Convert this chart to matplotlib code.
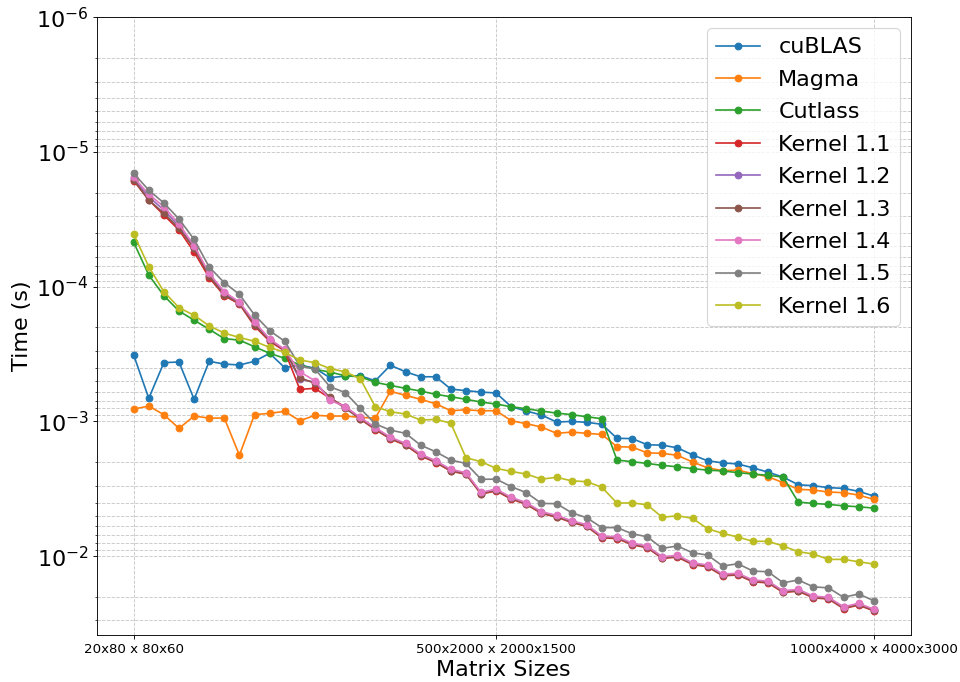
import numpy as np
from matplotlib import pyplot as plt

# matrix sizes: m x 4m times 4m x 3m, m = 20 .. 1000
sizes = list(range(20, 1001, 20))
tick_idx = [0, 24, 49]
tick_labels = ['20x80 x 80x60', '500x2000 x 2000x1500', '1000x4000 x 4000x3000']

cublas = [3.21e-4, 6.74e-4, 3.66e-4, 3.62e-4, 6.85e-4, 3.58e-4, 3.75e-4, 3.81e-4, 3.58e-4, 3.12e-4,
          3.99e-4, 3.81e-4, 4.03e-4, 4.74e-4, 4.60e-4, 4.58e-4, 4.99e-4, 3.83e-4, 4.28e-4, 4.66e-4,
          4.66e-4, 5.75e-4, 5.91e-4, 6.05e-4, 6.15e-4, 7.78e-4, 8.37e-4, 8.96e-4, 1.01e-3, 1.00e-3,
          1.015e-3, 1.05e-3, 1.335e-3, 1.34e-3, 1.49e-3, 1.50e-3, 1.57e-3, 1.77e-3, 1.96e-3, 2.03e-3,
          2.07e-3, 2.21e-3, 2.38e-3, 2.59e-3, 2.95e-3, 3.00e-3, 3.10e-3, 3.14e-3, 3.30e-3, 3.58e-3]

magma = [8.09e-4, 7.69e-4, 8.91e-4, 1.125e-3, 9.12e-4, 9.44e-4, 9.44e-4, 1.78e-3, 8.91e-4, 8.71e-4,
         8.41e-4, 9.88e-4, 9.01e-4, 9.12e-4, 9.12e-4, 9.33e-4, 9.44e-4, 5.98e-4, 6.40e-4, 6.85e-4,
         7.39e-4, 8.33e-4, 8.19e-4, 8.33e-4, 8.33e-4, 9.88e-4, 1.04e-3, 1.10e-3, 1.225e-3, 1.20e-3,
         1.225e-3, 1.25e-3, 1.54e-3, 1.55e-3, 1.71e-3, 1.725e-3, 1.785e-3, 2.00e-3, 2.21e-3, 2.32e-3,
         2.30e-3, 2.44e-3, 2.57e-3, 2.85e-3, 3.19e-3, 3.23e-3, 3.34e-3, 3.38e-3, 3.52e-3, 3.79e-3]

cutlass = [4.68e-5, 8.19e-5, 1.166e-4, 1.515e-4, 1.77e-4, 2.07e-4, 2.43e-4, 2.49e-4, 2.79e-4, 3.12e-4,
           3.40e-4, 3.81e-4, 4.10e-4, 4.30e-4, 4.58e-4, 4.66e-4, 5.13e-4, 5.40e-4, 5.68e-4, 5.95e-4,
           6.29e-4, 6.56e-4, 6.85e-4, 7.18e-4, 7.43e-4, 7.78e-4, 8.05e-4, 8.37e-4, 8.67e-4, 8.91e-4,
           9.23e-4, 9.55e-4, 1.935e-3, 1.99e-3, 2.05e-3, 2.12e-3, 2.17e-3, 2.24e-3, 2.30e-3, 2.33e-3,
           2.40e-3, 2.46e-3, 2.51e-3, 2.59e-3, 3.97e-3, 4.06e-3, 4.13e-3, 4.23e-3, 4.30e-3, 4.40e-3]

kernel_1_1 = [1.63e-5, 2.27e-5, 2.94e-5, 3.79e-5, 5.52e-5, 8.57e-5, 1.166e-4, 1.345e-4, 1.96e-4, 2.54e-4,
              3.00e-4, 5.78e-4, 5.68e-4, 6.74e-4, 7.78e-4, 9.60e-4, 1.15e-3, 1.35e-3, 1.50e-3, 1.80e-3,
              2.02e-3, 2.34e-3, 2.47e-3, 3.46e-3, 3.28e-3, 3.77e-3, 4.13e-3, 4.82e-3, 5.13e-3, 5.62e-3,
              6.02e-3, 7.32e-3, 7.40e-3, 8.23e-3, 8.66e-3, 1.04e-2, 1.016e-2, 1.154e-2, 1.20e-2, 1.40e-2,
              1.38e-2, 1.55e-2, 1.58e-2, 1.86e-2, 1.82e-2, 2.04e-2, 2.08e-2, 2.45e-2, 2.31e-2, 2.55e-2]

kernel_1_2 = [1.57e-5, 2.15e-5, 2.70e-5, 3.55e-5, 5.15e-5, 8.20e-5, 1.12e-4, 1.32e-4, 1.88e-4, 2.47e-4,
              2.95e-4, 4.88e-4, 5.10e-4, 6.82e-4, 7.83e-4, 9.42e-4, 1.125e-3, 1.323e-3, 1.47e-3, 1.763e-3,
              1.98e-3, 2.29e-3, 2.42e-3, 3.39e-3, 3.21e-3, 3.70e-3, 4.05e-3, 4.73e-3, 5.03e-3, 5.51e-3,
              5.90e-3, 7.18e-3, 7.25e-3, 8.07e-3, 8.49e-3, 1.02e-2, 9.96e-3, 1.131e-2, 1.176e-2, 1.372e-2,
              1.353e-2, 1.52e-2, 1.545e-2, 1.825e-2, 1.78e-2, 2.00e-2, 2.04e-2, 2.40e-2, 2.26e-2, 2.50e-2]

kernel_1_3 = [1.61e-5, 2.27e-5, 2.85e-5, 3.68e-5, 5.19e-5, 8.32e-5, 1.152e-4, 1.33e-4, 1.92e-4, 2.49e-4,
              2.95e-4, 4.74e-4, 5.21e-4, 6.62e-4, 8.00e-4, 9.52e-4, 1.136e-3, 1.336e-3, 1.484e-3, 1.78e-3,
              2.00e-3, 2.315e-3, 2.45e-3, 3.43e-3, 3.24e-3, 3.73e-3, 4.09e-3, 4.77e-3, 5.08e-3, 5.57e-3,
              5.96e-3, 7.25e-3, 7.32e-3, 8.15e-3, 8.58e-3, 1.03e-2, 1.006e-2, 1.142e-2, 1.187e-2, 1.385e-2,
              1.367e-2, 1.534e-2, 1.56e-2, 1.843e-2, 1.80e-2, 2.02e-2, 2.06e-2, 2.42e-2, 2.285e-2, 2.53e-2]

kernel_1_4 = [1.54e-5, 2.06e-5, 2.55e-5, 3.42e-5, 4.96e-5, 7.95e-5, 1.089e-4, 1.30e-4, 1.82e-4, 2.44e-4,
              2.92e-4, 4.28e-4, 4.99e-4, 6.97e-4, 7.75e-4, 9.33e-4, 1.114e-3, 1.31e-3, 1.455e-3, 1.746e-3,
              1.96e-3, 2.27e-3, 2.40e-3, 3.36e-3, 3.18e-3, 3.66e-3, 4.01e-3, 4.68e-3, 4.98e-3, 5.46e-3,
              5.84e-3, 7.11e-3, 7.18e-3, 7.99e-3, 8.41e-3, 1.01e-2, 9.86e-3, 1.12e-2, 1.164e-2, 1.358e-2,
              1.34e-2, 1.504e-2, 1.53e-2, 1.807e-2, 1.764e-2, 1.98e-2, 2.02e-2, 2.376e-2, 2.24e-2, 2.48e-2]

kernel_1_5 = [1.44e-5, 1.92e-5, 2.39e-5, 3.14e-5, 4.45e-5, 7.14e-5, 9.34e-5, 1.139e-4, 1.62e-4, 2.12e-4,
              2.54e-4, 3.88e-4, 4.08e-4, 5.53e-4, 6.10e-4, 8.00e-4, 1.045e-3, 1.16e-3, 1.225e-3, 1.50e-3,
              1.68e-3, 1.935e-3, 2.05e-3, 2.69e-3, 2.68e-3, 3.05e-3, 3.38e-3, 4.06e-3, 4.08e-3, 4.76e-3,
              5.19e-3, 6.14e-3, 6.14e-3, 6.82e-3, 7.18e-3, 8.75e-3, 8.41e-3, 9.44e-3, 9.82e-3, 1.184e-2,
              1.139e-2, 1.29e-2, 1.306e-2, 1.576e-2, 1.504e-2, 1.69e-2, 1.72e-2, 2.02e-2, 1.91e-2, 2.14e-2]

kernel_1_6 = [4.06e-5, 7.10e-5, 1.089e-4, 1.43e-4, 1.63e-4, 1.95e-4, 2.21e-4, 2.38e-4, 2.54e-4, 2.82e-4,
              3.07e-4, 3.50e-4, 3.66e-4, 4.05e-4, 4.28e-4, 4.82e-4, 7.78e-4, 8.47e-4, 8.81e-4, 9.77e-4,
              9.66e-4, 1.03e-3, 1.86e-3, 1.99e-3, 2.23e-3, 2.35e-3, 2.46e-3, 2.68e-3, 2.60e-3, 2.76e-3,
              2.80e-3, 3.08e-3, 4.04e-3, 4.02e-3, 4.16e-3, 5.15e-3, 5.01e-3, 5.24e-3, 6.26e-3, 6.78e-3,
              7.21e-3, 7.76e-3, 7.76e-3, 8.41e-3, 9.27e-3, 9.64e-3, 1.057e-2, 1.057e-2, 1.10e-2, 1.145e-2]

series = {
    'cuBLAS': cublas,
    'Magma': magma,
    'Cutlass': cutlass,
    'Kernel 1.1': kernel_1_1,
    'Kernel 1.2': kernel_1_2,
    'Kernel 1.3': kernel_1_3,
    'Kernel 1.4': kernel_1_4,
    'Kernel 1.5': kernel_1_5,
    'Kernel 1.6': kernel_1_6,
}

fig = plt.figure(figsize=(12, 8.525), dpi=80)
fig.subplots_adjust(left=0.1007, right=0.9487, top=0.9746, bottom=0.0689)

x = np.arange(len(sizes))
for name, values in series.items():
    plt.plot(x, values, marker='o', label=name)

plt.yscale('log')
plt.ylim(3.85e-2, 1e-6)
plt.xticks([x[i] for i in tick_idx], tick_labels, fontsize=12)
plt.yticks(fontsize=20)
plt.xlabel('Matrix Sizes', fontsize=20)
plt.ylabel('Time (s)', fontsize=20)
plt.grid(True, which='both', linestyle='--', color='#c8c8c8', linewidth=0.8)
plt.legend(loc='upper right', fontsize=20, labelspacing=0.56)

plt.savefig('out.png', dpi=80)
